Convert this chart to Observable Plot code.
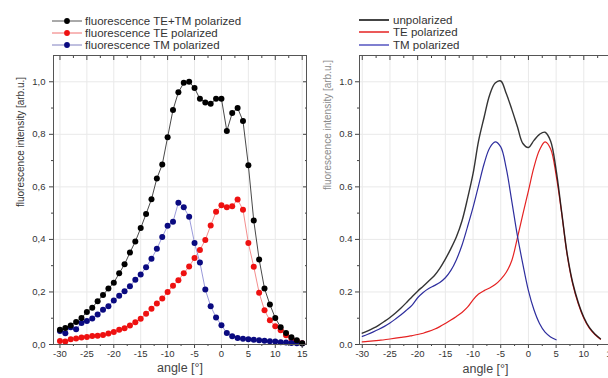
<!DOCTYPE html>
<html><head><meta charset="utf-8">
<script src="https://cdn.jsdelivr.net/npm/d3@7"></script>
<script src="https://cdn.jsdelivr.net/npm/@observablehq/plot@0.6"></script>
<style>
html,body{margin:0;padding:0;background:#fff;overflow:hidden;}
#wrap{position:relative;width:608px;height:378px;overflow:hidden;font-family:"Liberation Sans",Arial,sans-serif;}
.p{position:absolute;top:0;}
.row{position:absolute;white-space:nowrap;height:12px;line-height:12px;font-size:11.5px;color:#333;}
.row svg{position:absolute;top:0;}
.row span{position:absolute;top:0;}
</style></head><body><div id="wrap"></div>
<script>
// ---------- left panel data (measured points, 1° steps) ----------
const anglesL = [-30,-29,-28,-27,-26,-25,-24,-23,-22,-21,-20,-19,-18,-17,-16,-15,-14,-13,-12,-11,-10,-9,-8,-7,-6,-5,-4,-3,-2,-1,0,1,2,3,4,5,6,7,8,9,10,11,12,13,14,15];
const fluoTETM = [0.056,0.063,0.072,0.086,0.101,0.124,0.140,0.165,0.188,0.213,
                  0.235,0.271,0.305,0.350,0.392,0.443,0.497,0.553,0.632,0.685,
                  0.789,0.893,0.960,0.996,1.000,0.976,0.935,0.921,0.916,0.935,
                  0.935,0.813,0.881,0.900,0.851,0.682,0.472,0.324,0.213,0.152,
                  0.101,0.066,0.044,0.028,0.016,0.005];
const fluoTE = [0.013,0.011,0.020,0.023,0.027,0.029,0.032,0.033,0.036,0.042,
                0.048,0.056,0.062,0.072,0.085,0.098,0.117,0.136,0.156,0.175,
                0.200,0.224,0.245,0.271,0.297,0.329,0.360,0.398,0.453,0.505,
                0.530,0.522,0.526,0.552,0.513,0.386,0.296,0.197,0.130,0.092,
                0.069,0.054,0.035,0.022,0.013,0.005];
const fluoTM = [0.051,0.043,0.066,0.058,0.082,0.089,0.099,0.114,0.132,0.146,
                0.167,0.186,0.203,0.222,0.246,0.266,0.294,0.326,0.364,0.409,
                0.452,0.467,0.540,0.522,0.486,0.386,0.312,0.209,0.146,0.103,
                0.073,0.044,0.031,0.025,0.022,0.020,0.018,0.016,0.014,0.012,
                0.011,0.009,0.008,0.006,0.005,0.004];

// ---------- right panel data (simulated curves) ----------
const anglesR = [-30,-29,-28,-27,-26,-25,-24,-23,-22,-21,-20,-19,-18,-17,-16,-15,-14,-13,-12,-11,-10,-9,-8,-7,-6,-5,-4,-3,-2,-1,0,1,2,3,4,5,6,7,8,9,10,11,12,13];
const unpolarized = [0.043,0.052,0.062,0.074,0.088,0.103,0.120,0.139,0.160,0.182,
                     0.203,0.222,0.242,0.262,0.290,0.325,0.365,0.410,0.470,0.555,
                     0.650,0.775,0.865,0.950,0.995,1.003,0.955,0.895,0.830,0.765,
                     0.750,0.777,0.800,0.808,0.775,0.665,0.505,0.345,0.235,0.160,
                     0.104,0.065,0.040,0.022];
const tePolarized = [0.010,0.012,0.014,0.016,0.018,0.021,0.024,0.027,0.030,0.034,
                     0.038,0.043,0.050,0.058,0.068,0.080,0.093,0.107,0.122,0.142,
                     0.170,0.192,0.205,0.215,0.228,0.248,0.275,0.320,0.405,0.496,
                     0.585,0.675,0.740,0.771,0.745,0.645,0.500,0.340,0.230,0.155,
                     0.100,0.062,0.038,0.020];
const anglesTM = [-30,-29,-28,-27,-26,-25,-24,-23,-22,-21,-20,-19,-18,-17,-16,-15,-14,-13,-12,-11,-10,-9,-8,-7,-6,-5,-4,-3,-2,-1,0,1,2,3,4,5];
const tmPolarized = [0.031,0.039,0.048,0.058,0.069,0.082,0.097,0.113,0.131,0.150,
                     0.178,0.198,0.213,0.224,0.236,0.254,0.282,0.323,0.378,0.448,
                     0.522,0.605,0.688,0.748,0.771,0.752,0.670,0.545,0.415,0.305,
                     0.205,0.132,0.080,0.047,0.029,0.018];

// ---------- ticks and labels ----------
const xMajor = [-30,-25,-20,-15,-10,-5,0,5,10,15];
const xMinor = [-27.5,-22.5,-17.5,-12.5,-7.5,-2.5,2.5,7.5,12.5];
const yMajor = [0,0.2,0.4,0.6,0.8,1.0];
const yMinor = [0.1,0.3,0.5,0.7,0.9];
const legendL = ["fluorescence TE+TM polarized","fluorescence TE polarized","fluorescence TM polarized"];
const legendR = ["unpolarized","TE polarized","TM polarized"];
const xLabel = "angle [°]";
const yLabel = "fluorescence intensity [arb.u.]";

const FONT = "Liberation Sans, Arial, sans-serif";
const rowsL = anglesL.map((a,i)=>({a, all:fluoTETM[i], te:fluoTE[i], tm:fluoTM[i]}));
const rowsR = anglesR.map((a,i)=>({a, un:unpolarized[i], te:tePolarized[i]}));
const rowsTM = anglesTM.map((a,i)=>({a, tm:tmPolarized[i]}));

function axes(fmtY, yTickPad){
  const none = () => "";
  return [
    Plot.axisX(xMajor, {anchor:"bottom", tickSize:4, tickPadding:2, tickFormat:d=>String(d), label:null, stroke:"#444", fill:"#333"}),
    Plot.axisX(xMinor, {anchor:"bottom", tickSize:2, tickFormat:none, label:null, stroke:"#444"}),
    Plot.axisX(xMajor, {anchor:"top", tickSize:-4, tickFormat:none, label:null, stroke:"#444"}),
    Plot.axisX(xMinor, {anchor:"top", tickSize:-2, tickFormat:none, label:null, stroke:"#444"}),
    Plot.axisY(yMajor, {anchor:"left", tickSize:4, tickPadding:yTickPad, tickFormat:fmtY, label:null, stroke:"#444", fill:"#333"}),
    Plot.axisY(yMinor, {anchor:"left", tickSize:2, tickFormat:none, label:null, stroke:"#444"}),
    Plot.axisY(yMajor, {anchor:"right", tickSize:-4, tickFormat:none, label:null, stroke:"#444"}),
    Plot.axisY(yMinor, {anchor:"right", tickSize:-2, tickFormat:none, label:null, stroke:"#444"}),
    Plot.frame({stroke:"#555"})
  ];
}

const left = Plot.plot({
  width: 316, height: 378,
  marginLeft: 53, marginRight: 10, marginTop: 55, marginBottom: 34,
  x: {domain: [-31.2, 15.8], label: null},
  y: {domain: [0, 1.1], label: null},
  style: {fontFamily: FONT, fontSize: "9.5px", color: "#333", background: "transparent", overflow: "visible"},
  marks: [
    Plot.gridX(xMajor, {stroke: "#e9e9e9", strokeOpacity: 1}),
    Plot.gridY(yMajor, {stroke: "#e9e9e9", strokeOpacity: 1}),
    Plot.line(rowsL, {x: "a", y: "te", stroke: "#f07070", strokeWidth: 0.8}),
    Plot.line(rowsL, {x: "a", y: "tm", stroke: "#8080d0", strokeWidth: 0.8}),
    Plot.line(rowsL, {x: "a", y: "all", stroke: "#333", strokeWidth: 0.9}),
    Plot.dot(rowsL, {x: "a", y: "te", r: 3, fill: "#ee1111"}),
    Plot.dot(rowsL, {x: "a", y: "tm", r: 3, fill: "#0a0a80"}),
    Plot.dot(rowsL, {x: "a", y: "all", r: 3, fill: "#000"}),
    ...axes(d => d.toFixed(1).replace(".", ","), 4),
    Plot.text([xLabel], {frameAnchor: "bottom", dy: 27, fontSize: 12.5, fill: "#444"}),
    Plot.text([yLabel], {frameAnchor: "left", rotate: -90, dx: -33, dy: 7, fontSize: 10, fill: "#333"})
  ]
});

const right = Plot.plot({
  width: 321, height: 378,
  marginLeft: 59, marginRight: 10, marginTop: 55, marginBottom: 34,
  x: {domain: [-30.5, 15], label: null},
  y: {domain: [0, 1.1], label: null},
  style: {fontFamily: FONT, fontSize: "9.5px", color: "#333", background: "transparent", overflow: "visible"},
  marks: [
    Plot.gridX(xMajor, {stroke: "#e9e9e9", strokeOpacity: 1}),
    Plot.gridY(yMajor, {stroke: "#e9e9e9", strokeOpacity: 1}),
    Plot.line(rowsR, {x: "a", y: "te", stroke: "#e52222", strokeWidth: 1.2, curve: "catmull-rom"}),
    Plot.line(rowsTM, {x: "a", y: "tm", stroke: "#2e2e9e", strokeWidth: 1.2, curve: "catmull-rom"}),
    Plot.line(rowsR, {x: "a", y: "un", stroke: "#111", strokeWidth: 1.4, curve: "catmull-rom", strokeOpacity: 0.85}),
    ...axes(d => d.toFixed(1), 3),
    Plot.text([xLabel], {frameAnchor: "bottom", dy: 28, fontSize: 12.5, fill: "#444"}),
    Plot.text([yLabel], {frameAnchor: "left", rotate: -90, dx: -32, dy: -10, fontSize: 10, fill: "#8a8a8a"})
  ]
});

const wrap = document.getElementById("wrap");
left.classList.add("p"); left.style.left = "0px";
right.classList.add("p"); right.style.left = "300px";
wrap.appendChild(left);
wrap.appendChild(right);

// legends
const legL = [
  {line: "#555", dot: "#000"},
  {line: "#f07070", dot: "#ee1111"},
  {line: "#8080c0", dot: "#0a0a80"}
];
const legLy = [20.7, 32.7, 44.7];
legendL.forEach((t, i) => {
  const r = document.createElement("div");
  r.className = "row";
  r.style.left = "52px"; r.style.top = (legLy[i] - 6) + "px";
  r.innerHTML = `<svg width="32" height="12" style="left:0"><line x1="0" x2="30" y1="6" y2="6" stroke="${legL[i].line}" stroke-width="1"/><circle cx="15" cy="6" r="2.9" fill="${legL[i].dot}"/></svg><span style="left:33px">${t}</span>`;
  wrap.appendChild(r);
});
const legR = ["#444", "#e52222", "#5555c0"];
const legRy = [19.5, 32, 44.5];
legendR.forEach((t, i) => {
  const r = document.createElement("div");
  r.className = "row";
  r.style.left = "359px"; r.style.top = (legRy[i] - 6) + "px";
  r.style.fontSize = "11.5px";
  r.innerHTML = `<svg width="32" height="12" style="left:0"><line x1="0" x2="30" y1="6" y2="6" stroke="${legR[i]}" stroke-width="${i===0?2:1.5}"/></svg><span style="left:34px">${t}</span>`;
  wrap.appendChild(r);
});
</script></body></html>
